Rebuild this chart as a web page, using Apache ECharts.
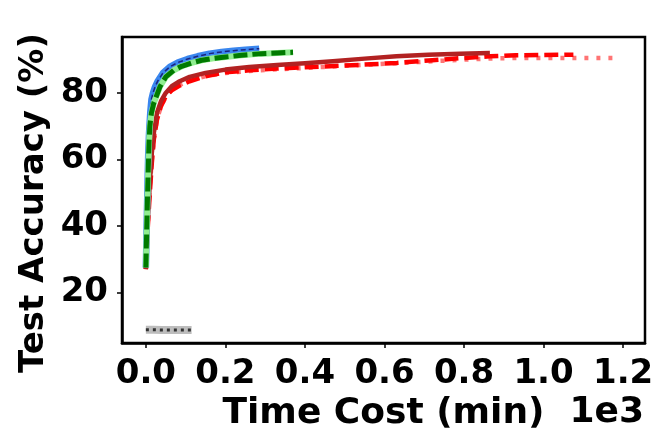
<!DOCTYPE html>
<html>
<head>
<meta charset="utf-8">
<script src="https://cdn.jsdelivr.net/npm/echarts@6/dist/echarts.min.js"></script>
<style>
  html, body { margin: 0; padding: 0; background: #fff; }
  #chart { width: 660px; height: 431px; }
</style>
</head>
<body>
<div id="chart"></div>
<script>
// x in minutes, y in test accuracy (%)
var xTicks = [0, 200, 400, 600, 800, 1000, 1200];
var yTicks = [20, 40, 60, 80];

var blueX = [0, 2, 4, 6, 8, 11, 14, 18, 23, 30, 43, 60, 80, 105, 130, 160, 190, 220, 250, 285];
var blueY = [27.5, 40, 52, 62, 68, 74, 78, 80, 81.8, 83.6, 86, 87.8, 89.1, 90.2, 91, 91.8, 92.3, 92.7, 93, 93.3];

var greenX = [0, 2, 4, 6, 8, 10, 14, 20, 28, 36, 50, 70, 90, 115, 140, 170, 200, 240, 290, 330, 370];
var greenY = [27.5, 38, 48, 57, 65, 70, 74, 77, 79.5, 82, 84.8, 86.8, 88, 89, 89.8, 90.4, 90.8, 91.3, 91.8, 92, 92.2];

var darkRedX = [0, 5, 10, 15, 20, 28, 38, 50, 65, 85, 110, 150, 200, 260, 330, 400, 470, 550, 630, 710, 790, 865];
var darkRedY = [27, 42, 53, 62, 68, 74, 77.5, 80, 82, 83.5, 84.8, 86, 87, 87.8, 88.4, 88.9, 89.5, 90.3, 91, 91.5, 91.8, 92];

var redX = [0, 5, 10, 15, 20, 28, 38, 50, 65, 85, 110, 150, 200, 260, 330, 400, 463, 550, 631, 720, 800, 865, 930, 1000, 1075];
var redY = [27, 40, 50, 59, 66, 72, 76, 79, 80.8, 82.2, 83.5, 85, 86.2, 86.8, 87.3, 87.7, 88, 88.5, 89, 89.8, 90.5, 91, 91.3, 91.4, 91.5];

var salmonX = [0, 5, 10, 15, 20, 28, 38, 50, 65, 85, 110, 150, 200, 260, 330, 400, 480, 560, 640, 720, 800, 880, 960, 1040, 1110, 1175];
var salmonY = [27, 41, 52, 60, 66, 72, 76, 78.8, 80.8, 82.4, 83.8, 85, 86, 86.6, 87.1, 87.5, 88, 88.5, 89, 89.5, 90, 90.4, 90.5, 90.5, 90.5, 90.5];

var greyX = [0, 20, 40, 60, 80, 100, 115];
var greyY = [8.8, 8.8, 8.7, 8.7, 8.7, 8.7, 8.7];

function pairs(xs, ys) {
  var out = [];
  for (var i = 0; i < xs.length; i++) out.push([xs[i], ys[i]]);
  return out;
}

function line(name, xs, ys, color, width, type) {
  return {
    name: name,
    type: 'line',
    data: pairs(xs, ys),
    showSymbol: false,
    symbol: 'none',
    smooth: false,
    animation: false,
    silent: true,
    lineStyle: { color: color, width: width, type: type || 'solid', cap: 'butt', join: 'round' }
  };
}

var font = 'DejaVu Sans';
var chart = echarts.init(document.getElementById('chart'), null, { renderer: 'canvas' });

var option = {
  backgroundColor: '#fff',
  animation: false,
  grid: {
    left: 122, top: 37, right: 15, bottom: 88,
    outerBoundsMode: 'none',
    containLabel: false,
    show: true, borderColor: '#000', borderWidth: 2.5, backgroundColor: '#fff'
  },
  xAxis: {
    type: 'value',
    min: -60,
    max: 1255,
    name: 'Time Cost (min)',
    nameLocation: 'middle',
    nameGap: 52,
    nameTextStyle: { fontFamily: font, fontWeight: 'bold', fontSize: 36, color: '#000' },
    axisLine: { show: true, onZero: false, lineStyle: { color: '#000', width: 2.5 } },
    axisTick: { show: true, length: 5, customValues: xTicks, lineStyle: { color: '#000', width: 1.5 } },
    axisLabel: {
      customValues: xTicks,
      margin: 14,
      fontFamily: font, fontWeight: 'bold', fontSize: 34, color: '#000',
      formatter: function (v) { return (v / 1000).toFixed(1); }
    },
    splitLine: { show: false }
  },
  yAxis: {
    type: 'value',
    min: 4.8,
    max: 96.8,
    axisLine: { show: true, onZero: false, lineStyle: { color: '#000', width: 2.5 } },
    axisTick: { show: true, length: 5, customValues: yTicks, lineStyle: { color: '#000', width: 1.5 } },
    axisLabel: {
      customValues: yTicks,
      margin: 14,
      fontFamily: font, fontWeight: 'bold', fontSize: 34, color: '#000'
    },
    splitLine: { show: false }
  },
  graphic: [{
    type: 'text',
    right: 16,
    top: 395,
    style: { text: '1e3', fontFamily: font, fontWeight: 'bold', fontSize: 36, fill: '#000' }
  }, {
    type: 'text',
    x: 34,
    y: 203,
    rotation: Math.PI / 2,
    style: {
      text: 'Test Accuracy (%)', fontFamily: font, fontWeight: 'bold', fontSize: 34, fill: '#000',
      align: 'center', verticalAlign: 'middle'
    }
  }],
  series: [
    line('grey', greyX, greyY, '#bdbdbd', 8),
    line('grey dots', greyX, greyY, '#333', 3, [3, 4]),
    line('salmon', salmonX, salmonY, '#ff7474', 4.5, [4, 8]),
    line('red', redX, redY, '#ff0000', 4.5, [14, 6]),
    line('dark red', darkRedX, darkRedY, '#b22222', 4.5),
    line('blue', blueX, blueY, '#3a86ee', 6.5),
    line('navy', blueX, blueY, '#1a237e', 1.5, [5, 3]),
    line('light green', greenX, greenY, '#90ee90', 6),
    line('green', greenX, greenY, '#007a00', 5, [14, 5])
  ]
};

chart.setOption(option);
</script>
</body>
</html>
